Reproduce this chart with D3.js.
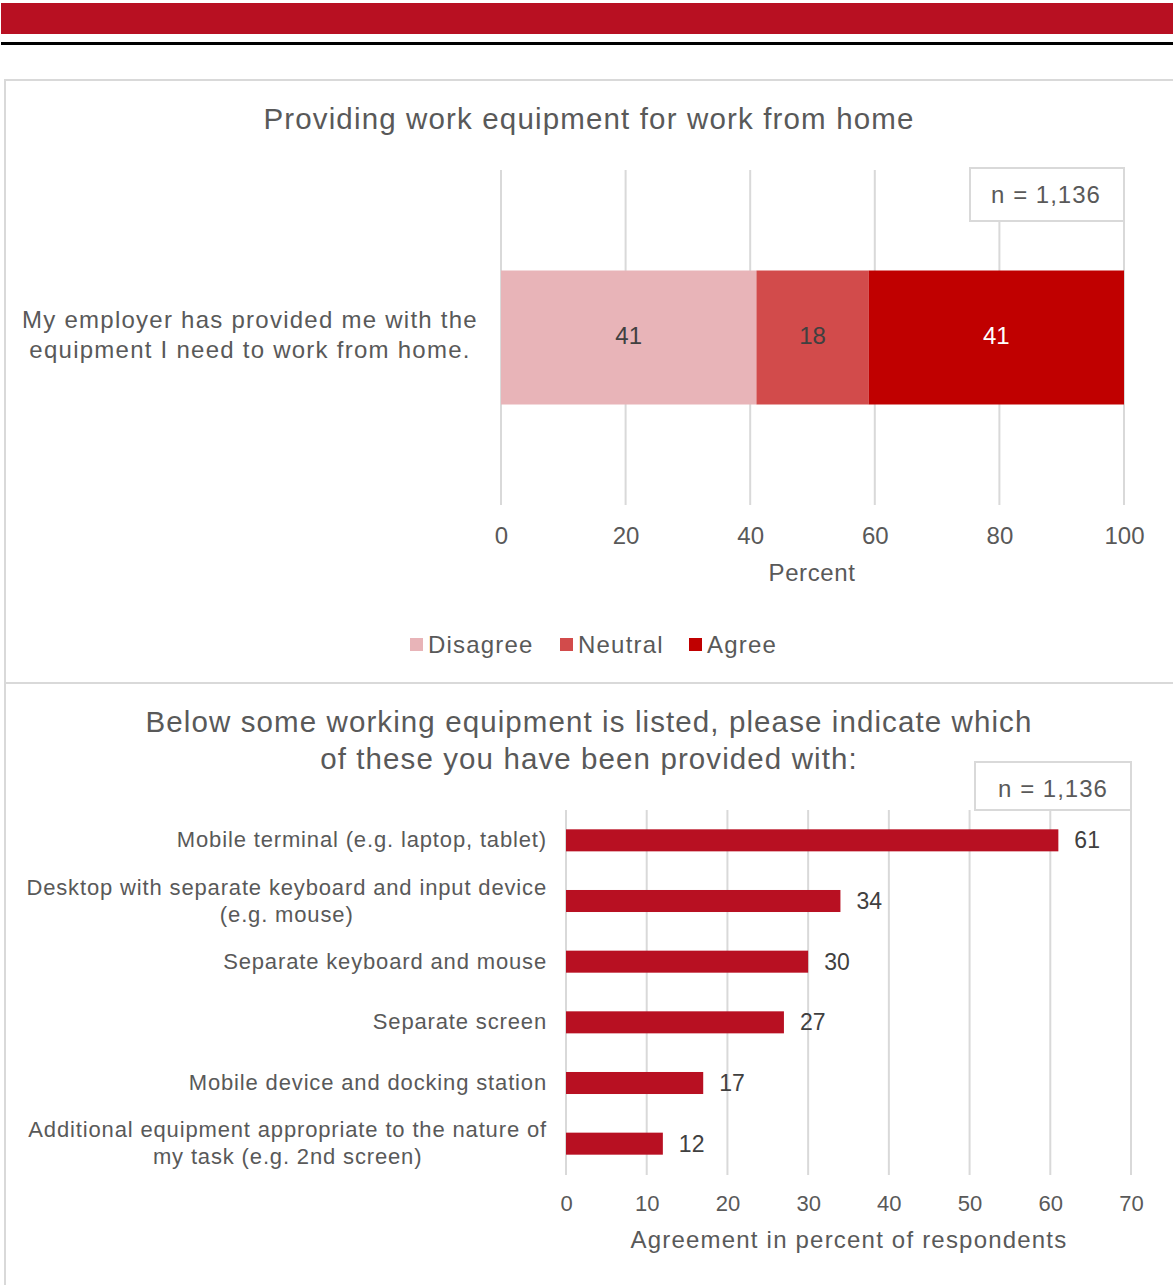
<!DOCTYPE html>
<html>
<head>
<meta charset="utf-8">
<script src="https://cdn.jsdelivr.net/npm/d3@7/dist/d3.min.js"></script>
<style>
  html, body { margin: 0; padding: 0; background: #fff; }
  svg { display: block; font-family: "Liberation Sans", Arial, sans-serif; }
</style>
</head>
<body>
<svg id="page" width="1173" height="1285"></svg>
<script>
// ---- Data: employer-provided equipment (top chart) ----
const agreementStatements = ["My employer has provided me with the\nequipment I need to work from home."];
const responseLevels = ["Disagree", "Neutral", "Agree"];
const disagreeShare = [41];
const neutralShare = [18];
const agreeShare = [41];
const percentTicks = [0, 20, 40, 60, 80, 100];

// ---- Data: equipment provided (bottom chart) ----
const equipmentItems = [
  "Mobile terminal (e.g. laptop, tablet)",
  "Desktop with separate keyboard and input device\n(e.g. mouse)",
  "Separate keyboard and mouse",
  "Separate screen",
  "Mobile device and docking station",
  "Additional equipment appropriate to the nature of\nmy task (e.g. 2nd screen)"
];
const equipmentShare = [61, 34, 30, 27, 17, 12];
const agreementTicks = [0, 10, 20, 30, 40, 50, 60, 70];

const sampleLabel = "n = 1,136";

const svg = d3.select("#page");
const textGray = "#595959";
const gridGray = "#d9d9d9";
const brandRed = "#b81022";
const levelColors = d3.scaleOrdinal().domain(responseLevels).range(["#e8b4b8", "#d24b4b", "#c00000"]);

// ---- Page header ----
svg.append("rect").attr("x", 1).attr("y", 3).attr("width", 1172).attr("height", 31).attr("fill", brandRed);
svg.append("rect").attr("x", 1).attr("y", 42).attr("width", 1172).attr("height", 3).attr("fill", "#000");

// ---- Panel frames ----
const frame = svg.append("g").attr("stroke", gridGray).attr("stroke-width", 2).attr("fill", "none");
frame.append("line").attr("x1", 5).attr("x2", 1173).attr("y1", 80).attr("y2", 80);
frame.append("line").attr("x1", 5).attr("x2", 1173).attr("y1", 683).attr("y2", 683);
frame.append("line").attr("x1", 5).attr("x2", 5).attr("y1", 79).attr("y2", 1285);

function multiLine(sel, text, lineHeight) {
  const lines = text.split("\n");
  const offset = -(lines.length - 1) * lineHeight / 2;
  lines.forEach((ln, i) => {
    sel.append("tspan").attr("x", 0).attr("dy", i === 0 ? offset : lineHeight).text(ln);
  });
}

// =========================== Top chart ===========================
const topChart = svg.append("g");
topChart.append("text")
  .attr("x", 589).attr("y", 129).attr("text-anchor", "middle")
  .attr("font-size", 29.5).attr("letter-spacing", 1.15).attr("fill", textGray)
  .text("Providing work equipment for work from home");

const xTop = d3.scaleLinear().domain([0, 100]).range([501, 1124]);
const yTop = d3.scaleBand().domain(agreementStatements).range([170, 505]).paddingInner(0.6).paddingOuter(0.3);

// vertical gridlines
topChart.append("g").selectAll("line").data(percentTicks).join("line")
  .attr("x1", d => xTop(d)).attr("x2", d => xTop(d))
  .attr("y1", 170).attr("y2", 505)
  .attr("stroke", gridGray).attr("stroke-width", 2);

// stacked segments
const stackRows = agreementStatements.map((s, i) => ({
  statement: s, Disagree: disagreeShare[i], Neutral: neutralShare[i], Agree: agreeShare[i]
}));
const stacked = d3.stack().keys(responseLevels)(stackRows);
const segLayer = topChart.append("g");
stacked.forEach(series => {
  series.forEach(seg => {
    segLayer.append("rect")
      .attr("x", xTop(seg[0])).attr("width", xTop(seg[1]) - xTop(seg[0]))
      .attr("y", yTop(seg.data.statement)).attr("height", yTop.bandwidth())
      .attr("fill", levelColors(series.key));
    segLayer.append("text")
      .attr("x", (xTop(seg[0]) + xTop(seg[1])) / 2)
      .attr("y", yTop(seg.data.statement) + yTop.bandwidth() / 2 + 6)
      .attr("text-anchor", "middle").attr("font-size", 24)
      .attr("fill", series.key === "Agree" ? "#ffffff" : "#404040")
      .text(seg[1] - seg[0]);
  });
});

// category label
agreementStatements.forEach(s => {
  const t = topChart.append("text")
    .attr("transform", `translate(250,${yTop(s) + yTop.bandwidth() / 2 + 5})`)
    .attr("text-anchor", "middle").attr("font-size", 24).attr("letter-spacing", 1.25)
    .attr("fill", textGray);
  multiLine(t, s, 30);
});

// x axis
const axTop = topChart.append("g").attr("transform", "translate(0,505)")
  .call(d3.axisBottom(xTop).tickValues(percentTicks).tickSize(0).tickPadding(22));
axTop.select(".domain").remove();
axTop.selectAll("text").attr("font-size", 24).attr("fill", textGray).attr("font-family", null);

topChart.append("text").attr("x", 812).attr("y", 581).attr("text-anchor", "middle")
  .attr("font-size", 24).attr("letter-spacing", 0.6).attr("fill", textGray).text("Percent");

// n box
topChart.append("rect").attr("x", 970).attr("y", 168).attr("width", 154).attr("height", 53)
  .attr("fill", "#fff").attr("stroke", gridGray).attr("stroke-width", 2);
topChart.append("text").attr("x", 1046).attr("y", 203).attr("text-anchor", "middle")
  .attr("font-size", 24).attr("letter-spacing", 1).attr("fill", textGray).text(sampleLabel);

// legend
const legendX = [410, 560, 689];
const legend = topChart.append("g");
responseLevels.forEach((lvl, i) => {
  legend.append("rect").attr("x", legendX[i]).attr("y", 638).attr("width", 13).attr("height", 13)
    .attr("fill", levelColors(lvl));
  legend.append("text").attr("x", legendX[i] + 18).attr("y", 653)
    .attr("font-size", 24).attr("letter-spacing", 1.2).attr("fill", textGray).text(lvl);
});

// =========================== Bottom chart ===========================
const bottomChart = svg.append("g");
const titleB = bottomChart.append("text").attr("text-anchor", "middle").attr("font-size", 29.5)
  .attr("letter-spacing", 1.1).attr("fill", textGray);
titleB.append("tspan").attr("x", 589).attr("y", 732).text("Below some working equipment is listed, please indicate which");
titleB.append("tspan").attr("x", 589).attr("y", 769).text("of these you have been provided with:");

const xBot = d3.scaleLinear().domain([0, 70]).range([566, 1131]);
const yBot = d3.scaleBand().domain(equipmentItems).range([810, 1174]).paddingInner(0.637).paddingOuter(0.3185);

bottomChart.append("g").selectAll("line").data(agreementTicks).join("line")
  .attr("x1", d => xBot(d)).attr("x2", d => xBot(d))
  .attr("y1", 810).attr("y2", 1175)
  .attr("stroke", gridGray).attr("stroke-width", 2);

// n box
bottomChart.append("rect").attr("x", 975).attr("y", 762).attr("width", 156).attr("height", 48)
  .attr("fill", "#fff").attr("stroke", gridGray).attr("stroke-width", 2);
bottomChart.append("text").attr("x", 1053).attr("y", 797).attr("text-anchor", "middle")
  .attr("font-size", 24).attr("letter-spacing", 1).attr("fill", textGray).text(sampleLabel);

const rows = equipmentItems.map((item, i) => ({ item, value: equipmentShare[i] }));
bottomChart.append("g").selectAll("rect").data(rows).join("rect")
  .attr("x", xBot(0)).attr("width", d => xBot(d.value) - xBot(0))
  .attr("y", d => yBot(d.item)).attr("height", yBot.bandwidth())
  .attr("fill", brandRed);

bottomChart.append("g").selectAll("text").data(rows).join("text")
  .attr("x", d => xBot(d.value) + 16)
  .attr("y", d => yBot(d.item) + yBot.bandwidth() / 2 + 8)
  .attr("font-size", 23).attr("fill", "#404040")
  .text(d => d.value);

// category labels: block right-aligned, lines centred within the block
const catLayer = bottomChart.append("g");
rows.forEach(d => {
  const t = catLayer.append("text")
    .attr("text-anchor", "middle").attr("font-size", 22).attr("letter-spacing", 0.85)
    .attr("fill", textGray);
  multiLine(t, d.item, 27);
  const w = t.node().getBBox().width;
  t.attr("transform", `translate(${547 - w / 2},${yBot(d.item) + yBot.bandwidth() / 2 + 7})`);
});

const axBot = bottomChart.append("g").attr("transform", "translate(0,1175)")
  .call(d3.axisBottom(xBot).tickValues(agreementTicks).tickSize(0).tickPadding(20));
axBot.select(".domain").remove();
axBot.selectAll("text").attr("font-size", 22).attr("fill", textGray).attr("font-family", null);

bottomChart.append("text").attr("x", 849).attr("y", 1248).attr("text-anchor", "middle")
  .attr("font-size", 24).attr("letter-spacing", 1.2).attr("fill", textGray).text("Agreement in percent of respondents");
</script>
</body>
</html>
